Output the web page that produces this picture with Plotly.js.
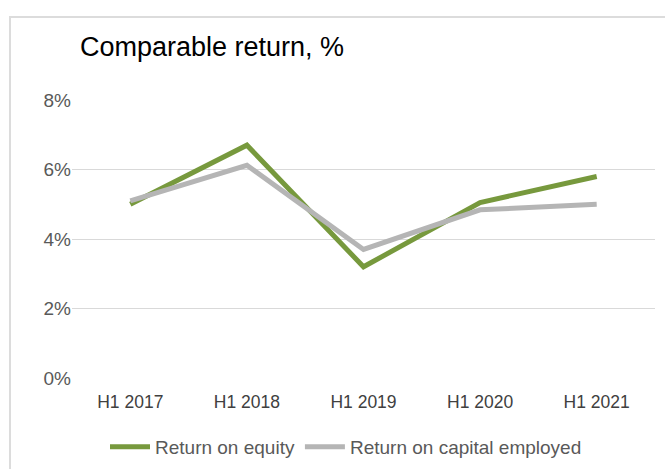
<!DOCTYPE html>
<html>
<head>
<meta charset="utf-8">
<script src="https://cdn.plot.ly/plotly-3.0.1.min.js"></script>
<style>
  html, body { margin: 0; padding: 0; background: #fff; overflow: hidden; }
  #wrap { position: relative; width: 665px; height: 469px; }
  #chart { position: absolute; left: 0; top: 0; width: 665px; height: 469px; }
  #frame { position: absolute; left: 9px; top: 16px; width: 680px; height: 480px;
           border: 2px solid #dcdcdc; pointer-events: none; box-sizing: border-box; }
</style>
</head>
<body>
<div id="wrap">
  <div id="chart"></div>
  <div id="frame"></div>
</div>
<script>
const categories = ["H1 2017", "H1 2018", "H1 2019", "H1 2020", "H1 2021"];
const returnOnEquity = [5.0, 6.7, 3.2, 5.05, 5.8];
const returnOnCapitalEmployed = [5.1, 6.12, 3.7, 4.84, 5.0];
const yTickValues = [0, 2, 4, 6, 8];
const yTickLabels = ["0%", "2%", "4%", "6%", "8%"];

const traces = [
  {
    x: categories, y: returnOnEquity, name: "Return on equity",
    type: "scatter", mode: "lines",
    line: { color: "#77993d", width: 5 }
  },
  {
    x: categories, y: returnOnCapitalEmployed, name: "Return on capital employed",
    type: "scatter", mode: "lines",
    line: { color: "#b5b5b5", width: 5 }
  }
];

const layout = {
  width: 665, height: 469,
  margin: { l: 72, r: 10, t: 100, b: 91 },
  paper_bgcolor: "#ffffff",
  plot_bgcolor: "#ffffff",
  font: { family: "Liberation Sans, Arial, sans-serif", color: "#595959" },
  title: {
    text: "Comparable return, %",
    x: 80 / 665, xref: "container", xanchor: "left",
    y: 1 - 47 / 469, yref: "container", yanchor: "middle",
    font: { family: "Liberation Sans, Arial, sans-serif", size: 27, color: "#000000" }
  },
  xaxis: {
    type: "category",
    range: [-0.5, 4.5],
    showgrid: false, zeroline: false, showline: false,
    ticks: "outside", ticklen: 8, tickcolor: "rgba(0,0,0,0)",
    tickfont: { size: 17.5, color: "#404040" },
    fixedrange: true,
    automargin: false
  },
  yaxis: {
    range: [0, 8],
    tickvals: yTickValues, ticktext: yTickLabels,
    showgrid: true, gridcolor: "#d9d9d9", gridwidth: 1,
    zeroline: false, showline: false,
    ticks: "",
    tickfont: { size: 19, color: "#595959" },
    fixedrange: true,
    automargin: false
  },
  showlegend: true,
  legend: {
    orientation: "h",
    xref: "container", x: 346 / 665, xanchor: "center",
    yref: "container", y: 1 - 447 / 469, yanchor: "middle",
    font: { size: 19, color: "#595959" },
    itemwidth: 40
  }
};

Plotly.newPlot("chart", traces, layout, { displayModeBar: false, staticPlot: true });
</script>
</body>
</html>
